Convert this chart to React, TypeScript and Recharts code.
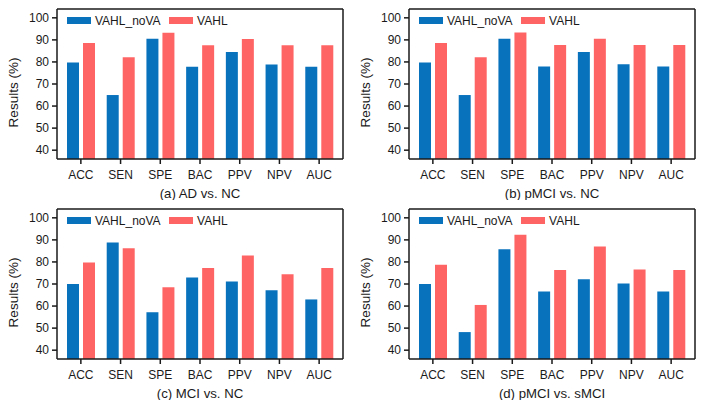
import * as React from "react";
import { BarChart, Bar, XAxis, YAxis, CartesianGrid } from "recharts";

const CATEGORIES = ["ACC", "SEN", "SPE", "BAC", "PPV", "NPV", "AUC"];
const Y_TICKS = [40, 50, 60, 70, 80, 90, 100];
const SERIES_NAMES = ["VAHL_noVA", "VAHL"];

// (a) AD vs. NC
const AD_NC_NOVA = [79.8, 65.0, 90.5, 77.8, 84.5, 78.8, 77.8];
const AD_NC_VAHL = [88.6, 82.1, 93.2, 87.6, 90.4, 87.6, 87.6];
// (b) pMCI vs. NC
const PMCI_NC_NOVA = [79.7, 65.0, 90.5, 77.9, 84.5, 78.9, 77.9];
const PMCI_NC_VAHL = [88.6, 82.1, 93.3, 87.7, 90.5, 87.7, 87.7];
// (c) MCI vs. NC
const MCI_NC_NOVA = [70.0, 88.8, 57.2, 73.0, 71.1, 67.2, 63.0];
const MCI_NC_VAHL = [79.7, 86.2, 68.5, 77.3, 82.9, 74.4, 77.3];
// (d) pMCI vs. sMCI
const PMCI_SMCI_NOVA = [70.0, 48.2, 85.8, 66.6, 72.2, 70.2, 66.6];
const PMCI_SMCI_VAHL = [78.7, 60.5, 92.3, 76.3, 87.0, 76.6, 76.3];

const BLUE = "#0872bd";
const RED = "#ff6464";
const COLORS = [BLUE, RED];
const INK = "#1a1a1a";
const DOMAIN: [number, number] = [36, 104];

function LegendBox() {
  return (
    <div
      style={{
        position: "absolute",
        left: 66.5,
        top: 14.5,
        display: "flex",
        alignItems: "center",
        fontSize: 12,
        lineHeight: "12px",
        color: INK,
        pointerEvents: "none",
      }}
    >
      {SERIES_NAMES.map((name, i) => (
        <div key={name} style={{ display: "flex", alignItems: "center", marginRight: 8 }}>
          <span style={{ width: 24, height: 7.5, background: COLORS[i], display: "inline-block" }} />
          <span style={{ marginLeft: 4.5, whiteSpace: "nowrap" }}>{name}</span>
        </div>
      ))}
    </div>
  );
}

function YLabel(props: any) {
  const vb = props.viewBox ?? { x: 0, y: 0, width: 0, height: 0 };
  const x = vb.x + 13.3;
  const y = vb.y + vb.height / 2 + 8.5;
  return (
    <text
      x={x}
      y={y}
      transform={`rotate(-90, ${x}, ${y})`}
      textAnchor="middle"
      dominantBaseline="central"
      fontSize={13.5}
      fill={INK}
    >
      Results (%)
    </text>
  );
}

// frame lines on top and right of the plot area
const topEdge = ({ offset }: any) => [offset.top];
const rightEdge = ({ offset }: any) => [offset.left + offset.width];

function Panel({ title, nova, vahl, left, top }: { title: string; nova: number[]; vahl: number[]; left: number; top: number }) {
  const data = CATEGORIES.map((name, i) => ({ name, nova: nova[i], vahl: vahl[i] }));
  const axisLine = { stroke: INK, strokeWidth: 1.5 };
  return (
    <div style={{ position: "absolute", left, top, width: 352, height: 200 }}>
      <BarChart
        width={352}
        height={200}
        data={data}
        margin={{ top: 9, right: 9, bottom: 0, left: 0 }}
        barSize={12}
        barGap={4}
      >
        <CartesianGrid
          stroke={INK}
          strokeWidth={1.5}
          horizontalCoordinatesGenerator={topEdge}
          verticalCoordinatesGenerator={rightEdge}
        />
        <XAxis
          dataKey="name"
          height={41}
          interval={0}
          tickSize={5}
          tickMargin={6}
          padding={{ left: 4, right: 4 }}
          axisLine={axisLine}
          tickLine={axisLine}
          tick={{ fill: INK, fontSize: 12 }}
          label={{ value: title, position: "insideBottom", offset: 2, fill: INK, fontSize: 13.2 }}
        />
        <YAxis
          width={57}
          domain={DOMAIN}
          ticks={Y_TICKS}
          interval={0}
          allowDataOverflow
          tickSize={5}
          tickMargin={3}
          axisLine={axisLine}
          tickLine={axisLine}
          tick={{ fill: INK, fontSize: 12 }}
          label={YLabel}
        />
        <Bar dataKey="nova" name={SERIES_NAMES[0]} fill={BLUE} isAnimationActive={false} />
        <Bar dataKey="vahl" name={SERIES_NAMES[1]} fill={RED} isAnimationActive={false} />
      </BarChart>
      <LegendBox />
    </div>
  );
}

export default function App() {
  return (
    <div
      style={{
        position: "absolute",
        left: 0,
        top: 0,
        width: 704,
        height: 409,
        background: "#fff",
        fontFamily: "'Liberation Sans', Arial, sans-serif",
      }}
    >
      <Panel title="(a) AD vs. NC" nova={AD_NC_NOVA} vahl={AD_NC_VAHL} left={0} top={0} />
      <Panel title="(b) pMCI vs. NC" nova={PMCI_NC_NOVA} vahl={PMCI_NC_VAHL} left={352} top={0} />
      <Panel title="(c) MCI vs. NC" nova={MCI_NC_NOVA} vahl={MCI_NC_VAHL} left={0} top={200} />
      <Panel title="(d) pMCI vs. sMCI" nova={PMCI_SMCI_NOVA} vahl={PMCI_SMCI_VAHL} left={352} top={200} />
    </div>
  );
}
